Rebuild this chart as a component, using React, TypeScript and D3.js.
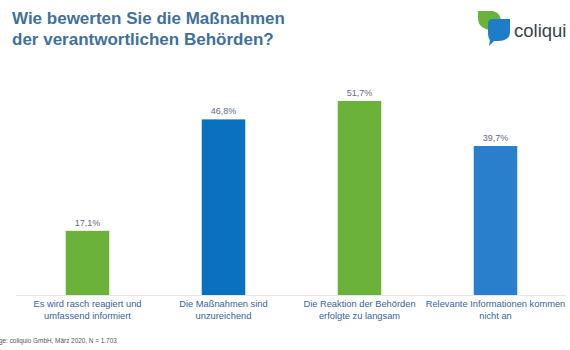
import { useEffect, useRef } from "react";
import * as d3 from "d3";

const categories = [
  ["Es wird rasch reagiert und", "umfassend informiert"],
  ["Die Maßnahmen sind", "unzureichend"],
  ["Die Reaktion der Behörden", "erfolgte zu langsam"],
  ["Relevante Informationen kommen", "nicht an"],
];
const values = [17.1, 46.8, 51.7, 39.7];
const colors = ["#6ab23a", "#0a70c0", "#6ab23a", "#2a7fcc"];

export default function App() {
  const svgRef = useRef<SVGSVGElement>(null);

  useEffect(() => {
    if (!svgRef.current) return;
    const svg = d3.select(svgRef.current);
    svg.selectAll("*").remove();

    const baseline = 295;
    const font = "Liberation Sans, Arial, sans-serif";

    // Title
    const title = svg
      .append("text")
      .attr("x", 12)
      .attr("y", 24)
      .style("font-family", font)
      .style("font-size", "17px")
      .style("font-weight", "bold")
      .style("fill", "#42709c");
    title.append("tspan").attr("x", 12).text("Wie bewerten Sie die Maßnahmen");
    title.append("tspan").attr("x", 12).attr("dy", 21).text("der verantwortlichen Behörden?");

    // Logo
    const logo = svg.append("g");
    logo
      .append("path")
      .attr("d", "M478,11 L493,11 Q501,13 501,22 L501,30 L490,30 Q478,28 478,18 Z")
      .attr("fill", "#6ab23a");
    logo
      .append("path")
      .attr("d", "M493,19 L510,19 L510,33 Q509,41 498,41 L494,41 L489,46 L490,40 Q488,38 488,32 L488,24 Q488,19 493,19 Z")
      .attr("fill", "#1f7cc8");
    logo
      .append("text")
      .attr("x", 514)
      .attr("y", 37)
      .style("font-family", font)
      .style("font-size", "18.5px")
      .style("fill", "#3a3f4f")
      .text("coliqui");

    const x = d3
      .scaleBand<number>()
      .domain(d3.range(values.length))
      .range([19.5, 563.5])
      .paddingInner(0.68)
      .paddingOuter(0.34);

    const y = d3.scaleLinear().domain([0, 51.7]).range([baseline, 101]);

    // Baseline
    svg
      .append("line")
      .attr("x1", 16)
      .attr("x2", 566)
      .attr("y1", baseline + 0.5)
      .attr("y2", baseline + 0.5)
      .attr("stroke", "#e4e8ec")
      .attr("stroke-width", 1);

    // Bars
    svg
      .selectAll(".bar")
      .data(values)
      .enter()
      .append("rect")
      .attr("class", "bar")
      .attr("x", (_, i) => x(i)!)
      .attr("width", x.bandwidth())
      .attr("y", (d) => y(d))
      .attr("height", (d) => baseline - y(d))
      .attr("fill", (_, i) => colors[i]);

    // Value labels
    svg
      .selectAll(".val")
      .data(values)
      .enter()
      .append("text")
      .attr("class", "val")
      .attr("x", (_, i) => x(i)! + x.bandwidth() / 2)
      .attr("y", (d) => y(d) - 5)
      .attr("text-anchor", "middle")
      .style("font-family", font)
      .style("font-size", "9px")
      .style("fill", "#5b6a80")
      .text((d) => d.toFixed(1).replace(".", ",") + "%");

    // Category labels
    categories.forEach((lines, i) => {
      const t = svg
        .append("text")
        .attr("x", x(i)! + x.bandwidth() / 2)
        .attr("y", 307)
        .attr("text-anchor", "middle")
        .style("font-family", font)
        .style("font-size", "9.3px")
        .style("fill", "#36649a");
      lines.forEach((l, j) => {
        t.append("tspan")
          .attr("x", x(i)! + x.bandwidth() / 2)
          .attr("dy", j === 0 ? 0 : 12)
          .text(l);
      });
    });

    // Source
    svg
      .append("text")
      .attr("x", -1)
      .attr("y", 343)
      .style("font-family", font)
      .style("font-size", "6.4px")
      .style("fill", "#555")
      .text("ge: coliquio GmbH, März 2020, N = 1.703");
  }, []);

  return (
    <div style={{ position: "fixed", left: 0, top: 0 }}>
      <svg ref={svgRef} width={570} height={350} style={{ display: "block", background: "#fff" }} />
    </div>
  );
}
